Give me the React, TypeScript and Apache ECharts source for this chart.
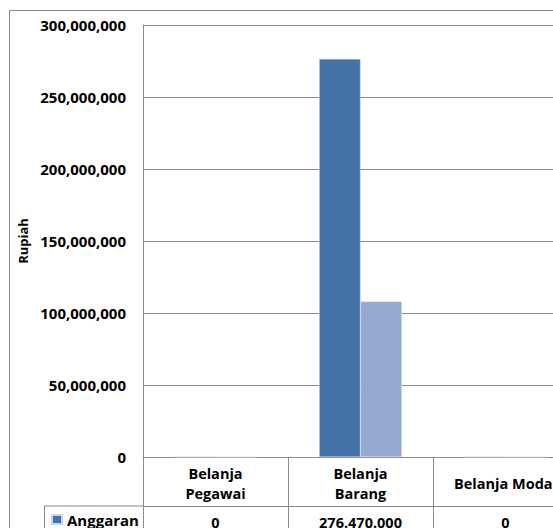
import React, { useEffect, useRef } from "react";
import * as echarts from "echarts";

const categories = ["Belanja\nPegawai", "Belanja\nBarang", "Belanja Modal"];
const seriesNames = ["Anggaran", "Realisasi"];
const anggaran = [0, 276470000, 0];
const realisasi = [0, 108000000, 0];
const yMin = 0;
const yMax = 300000000;
const yStep = 50000000;

const FONT = "'Open Sans', 'Noto Sans', sans-serif";
const GRAY = "#8a8a8a";
const CHART_W = 578;
const CHART_H = 580;

const fmtComma = (v: number) => v.toLocaleString("en-US");
const fmtDot = (v: number) => v.toLocaleString("en-US").replace(/,/g, ".");

export default function App() {
  const ref = useRef<HTMLDivElement>(null);
  useEffect(() => {
    if (!ref.current) return;
    const chart = echarts.init(ref.current, undefined, { renderer: "svg" });
    chart.setOption({
      animation: false,
      backgroundColor: "#fff",
      textStyle: { fontFamily: FONT },
      legend: {
        data: seriesNames,
        orient: "vertical",
        left: 46,
        top: 507,
        padding: 5,
        itemWidth: 10,
        itemHeight: 9,
        itemGap: 14,
        icon: "rect",
        textStyle: { fontFamily: FONT, fontWeight: "bold", fontSize: 15, color: "#000" },
      },
      grid: { left: 143, top: 25, bottom: CHART_H - 457, right: 0 },
      xAxis: [
        {
          type: "category",
          data: categories,
          position: "bottom",
          axisLine: { lineStyle: { color: GRAY } },
          axisTick: { show: true, length: 49, lineStyle: { color: GRAY } },
          axisLabel: {
            interval: 0,
            margin: 26,
            verticalAlign: "middle",
            color: "#000",
            fontFamily: FONT,
            fontWeight: "bold",
            fontSize: 14.5,
            lineHeight: 20,
          },
        },
        {
          type: "category",
          data: categories,
          position: "bottom",
          offset: 49,
          axisLine: { show: true, lineStyle: { color: GRAY } },
          axisTick: { show: true, length: 40, lineStyle: { color: GRAY } },
          axisLabel: {
            interval: 0,
            margin: 16,
            verticalAlign: "middle",
            color: "#000",
            fontFamily: FONT,
            fontWeight: "bold",
            fontSize: 14.5,
            formatter: (_v: string, i: number) => fmtDot(anggaran[i]),
          },
        },
      ],
      yAxis: {
        type: "value",
        min: yMin,
        max: yMax,
        interval: yStep,
        name: "Rupiah",
        nameLocation: "middle",
        nameRotate: 90,
        nameGap: 111,
        nameTextStyle: { fontFamily: FONT, fontWeight: "bold", fontSize: 13, color: "#000" },
        axisLine: { show: true, lineStyle: { color: GRAY } },
        axisTick: { show: false },
        splitLine: { lineStyle: { color: GRAY, width: 1 } },
        axisLabel: {
          margin: 17,
          color: "#000",
          fontFamily: FONT,
          fontWeight: "bold",
          fontSize: 15,
          formatter: (v: number) => fmtComma(v),
        },
      },
      series: [
        {
          name: seriesNames[0],
          type: "bar",
          xAxisIndex: 0,
          data: anggaran,
          barGap: "0%",
          barCategoryGap: "43%",
          itemStyle: { color: "#4572A7", borderColor: "#c9d6ea", borderWidth: 0.5 },
        },
        {
          name: seriesNames[1],
          type: "bar",
          xAxisIndex: 0,
          data: realisasi,
          itemStyle: { color: "#95A9D0", borderColor: "#d8e0ef", borderWidth: 0.5 },
        },
      ],
      graphic: [
        {
          type: "rect",
          shape: { x: 9.5, y: 10.5, width: 700, height: 700 },
          style: { fill: "none", stroke: GRAY, lineWidth: 1 },
          silent: true,
        },
        {
          type: "line",
          shape: { x1: 44.5, y1: 506, x2: 143, y2: 506 },
          style: { stroke: GRAY, lineWidth: 1 },
          silent: true,
        },
        {
          type: "line",
          shape: { x1: 44.5, y1: 506, x2: 44.5, y2: 600 },
          style: { stroke: GRAY, lineWidth: 1 },
          silent: true,
        },
      ],
    });
    return () => chart.dispose();
  }, []);
  return (
    <div
      style={{ position: "fixed", left: 0, top: 0, width: 553, height: 528, overflow: "hidden", background: "#fff" }}
    >
      <div ref={ref} style={{ width: CHART_W, height: CHART_H }} />
    </div>
  );
}
